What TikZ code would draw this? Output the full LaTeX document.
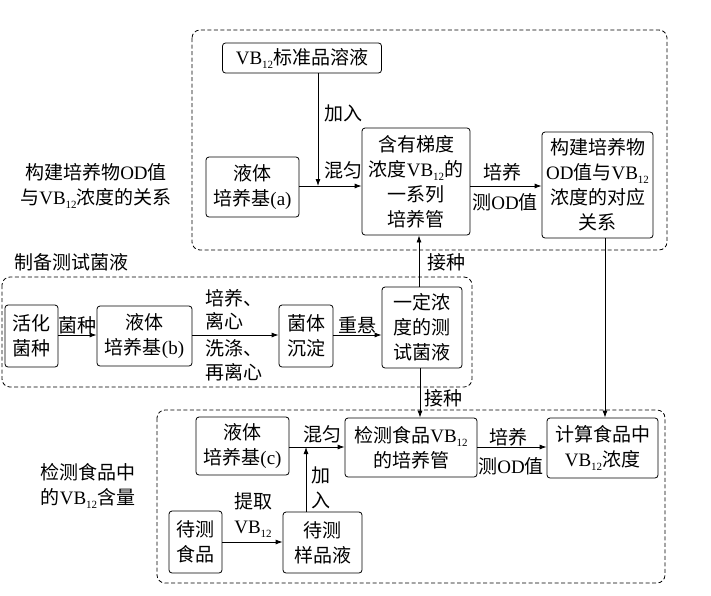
\documentclass[tikz,border=0pt]{standalone}
\usepackage{fontspec}
\setmainfont{Noto Sans CJK SC}
\newfontfamily\lat{Liberation Serif}
\usetikzlibrary{arrows.meta}
\newcommand\VB{{\lat VB\raisebox{-0.45ex}{\fontsize{11}{11}\selectfont 12}}}
\newcommand\OD{{\lat OD}}
\tikzset{
  blk/.style={draw, rounded corners=3pt, line width=0.8pt, align=center, inner sep=1pt},
  grp/.style={draw, dash pattern=on 4pt off 2.5pt, rounded corners=8pt, line width=0.8pt},
  arr/.style={-{Latex[length=7pt,width=5pt]}, line width=0.8pt},
  lbl/.style={inner sep=0pt, align=center},
}
\begin{document}
\begin{tikzpicture}[x=1pt,y=-1pt,font=\fontsize{19}{25}\selectfont]
  \useasboundingbox (0,0) rectangle (711,595);
  % dashed groups
  \draw[grp] (192,30) rectangle (667,250);
  \draw[grp] (2,277) rectangle (472,387);
  \draw[grp] (157,410) rectangle (665,583);
  % group titles
  \node[lbl] (t1) at (96,186) {构建培养物\OD 值\\与\VB 浓度的关系};
  \node[lbl] (t2) at (71,262) {制备测试菌液};
  \node[lbl] (t3) at (88,486) {检测食品中\\的\VB 含量};
  % top part
  \node[blk, minimum width=159, minimum height=30] (std) at (302,58) {\VB 标准品溶液};
  \node[blk, minimum width=93, minimum height=60] (meda) at (252.5,187) {液体\\培养基{\lat(a)}};
  \node[blk, minimum width=108, minimum height=107] (tubes) at (416,181.5) {含有梯度\\浓度\VB 的\\一系列\\培养管};
  \node[blk, minimum width=111, minimum height=106] (rel) at (597.5,185) {构建培养物\\\OD 值与\VB\\浓度的对应\\关系};
  % middle part
  \node[blk, minimum width=53, minimum height=62] (act) at (31.5,336) {活化\\菌种};
  \node[blk, minimum width=95, minimum height=60] (medb) at (144.5,336) {液体\\培养基{\lat(b)}};
  \node[blk, minimum width=54, minimum height=62] (sed) at (306,336) {菌体\\沉淀};
  \node[blk, minimum width=80, minimum height=81] (susp) at (422,327.5) {一定浓\\度的测\\试菌液};
  % bottom part
  \node[blk, minimum width=93, minimum height=58] (medc) at (242.5,446) {液体\\培养基{\lat(c)}};
  \node[blk, minimum width=132, minimum height=59] (det) at (411,447.5) {检测食品\VB\\的培养管};
  \node[blk, minimum width=111, minimum height=60] (calc) at (602.5,448) {计算食品中\\\VB 浓度};
  \node[blk, minimum width=53, minimum height=62] (food) at (195.5,542) {待测\\食品};
  \node[blk, minimum width=79, minimum height=61] (samp) at (322.5,542.5) {待测\\样品液};
  % junctions
  \coordinate (j1) at (318,186);
  \coordinate (j2) at (306,447);
  % connectors, top
  \draw[line width=0.8pt] (meda.east |- j1) -- (j1);
  \draw[arr] (j1) -- (tubes.west |- j1);
  \draw[arr] (std.south -| j1) -- (j1);
  \draw[arr] (tubes.east |- 0,186) -- (rel.west |- 0,186);
  \node[lbl] (l1) at (343,113) {加入};
  \node[lbl] (l2) at (343,170) {混匀};
  \node[lbl] (l3) at (502,172) {培养};
  \node[lbl] (l4) at (505,202) {测\OD 值};
  % connectors, middle
  \draw[arr] (act.east |- 0,335) -- (medb.west |- 0,335);
  \draw[arr] (medb.east |- 0,335) -- (sed.west |- 0,335);
  \draw[arr] (sed.east |- 0,335) -- (susp.west |- 0,335);
  \draw[arr] (susp.north -| 419,0) -- (tubes.south -| 419,0);
  \draw[arr] (susp.south -| 420,0) -- (det.north -| 420,0);
  \draw[arr] (rel.south -| 605,0) -- (calc.north -| 605,0);
  \node[lbl] (l5) at (77,325) {菌种};
  \node[lbl, anchor=west] (l6) at (205,298) {培养、};
  \node[lbl, anchor=west] (l7) at (205,321) {离心};
  \node[lbl, anchor=west] (l8) at (205,348) {洗涤、};
  \node[lbl, anchor=west] (l9) at (205,372) {再离心};
  \node[lbl] (l10) at (357,325) {重悬};
  \node[lbl] (l11) at (446,262) {接种};
  \node[lbl] (l12) at (443,398) {接种};
  % connectors, bottom
  \draw[line width=0.8pt] (medc.east |- j2) -- (j2);
  \draw[arr] (j2) -- (det.west |- j2);
  \draw[arr] (samp.north -| j2) -- (j2);
  \draw[arr] (food.east |- 0,542) -- (samp.west |- 0,542);
  \draw[arr] (det.east |- 0,447) -- (calc.west |- 0,447);
  \node[lbl] (l13) at (322,434) {混匀};
  \node[lbl] (l14) at (321,488) {加\\入};
  \node[lbl] (l15) at (253,515) {提取\\\VB};
  \node[lbl] (l16) at (508,437) {培养};
  \node[lbl] (l17) at (511,466) {测\OD 值};
\end{tikzpicture}
\end{document}
